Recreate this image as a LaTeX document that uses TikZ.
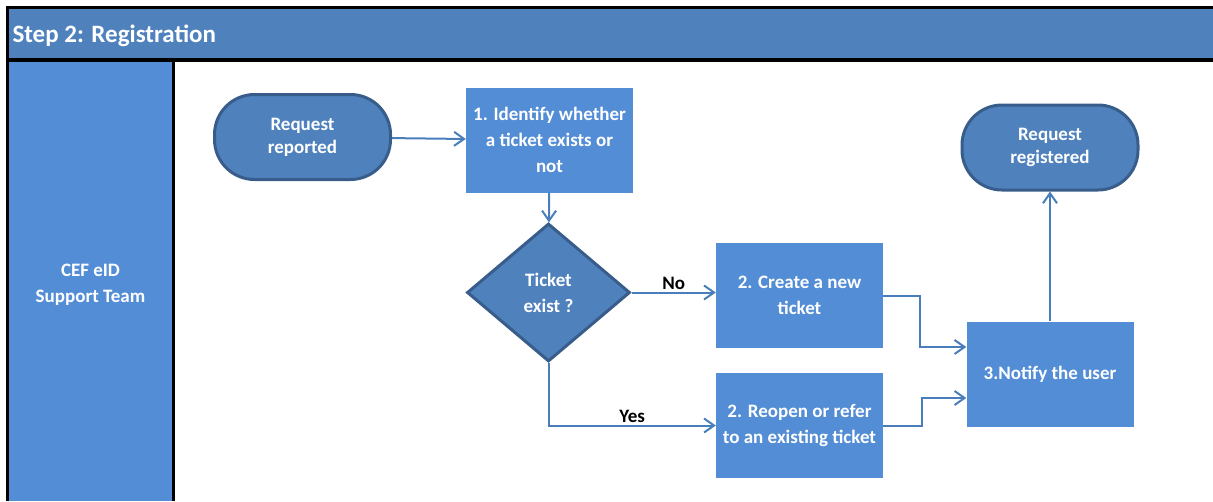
\documentclass[tikz,border=0pt]{standalone}
\usepackage{fontspec}
\setmainfont{Carlito}
\usetikzlibrary{shapes.geometric, arrows.meta}
\definecolor{headblue}{HTML}{4F81BD}
\definecolor{boxblue}{HTML}{538DD5}
\definecolor{rimblue}{HTML}{385D8A}
\definecolor{lineblue}{HTML}{4A7EBB}

\begin{document}
\begin{tikzpicture}[
  x=1pt, y=-1pt,
  every node/.style={font=\bfseries\fontsize{19}{26}\selectfont, text=white, align=center},
  terminal/.style={draw=rimblue, line width=3pt, fill=headblue, rounded corners=40pt, minimum width=176pt, minimum height=85pt, font=\bfseries\fontsize{19}{23}\selectfont},
  taskbox/.style={fill=boxblue, inner sep=4pt, minimum width=167pt, minimum height=105pt},
  decision/.style={diamond, draw=rimblue, line width=3pt, fill=headblue, inner sep=0pt, aspect=1.18, minimum width=163pt, minimum height=138pt},
  arrow/.style={-{Straight Barb[length=10pt, width=14pt]}, line width=2pt, draw=lineblue},
  answer/.style={text=black, inner sep=2pt}
]
\useasboundingbox (0,0) rectangle (1213,501);
\fill[headblue] (7,7) rectangle (1213,60);
\fill[boxblue] (7,60) rectangle (173,501);
\draw[line width=3pt] (1213,7) -- (7,7) -- (7,501);
\draw[line width=3.5pt] (7,60) -- (1213,60);
\draw[line width=3pt] (173.5,60) -- (173.5,501);
\node[anchor=west, font=\bfseries\fontsize{25}{30}\selectfont] (title) at (9,36) {Step 2: Registration};
\node (lane) at (90.5,284.5) {CEF eID\\Support Team};

\node[terminal] (reported) at (302.5,137) {Request\\reported};
\node[taskbox] (identify) [node distance=247pt, right of=reported, yshift=-3pt] {1. Identify whether\\a ticket exists or\\not};
\node[decision] (exists) [node distance=152.5pt, below of=identify, xshift=-1pt] {Ticket\\exist ?};
\node[taskbox] (create) [node distance=251pt, right of=exists, yshift=-3pt] {2. Create a new\\ticket};
\node[taskbox] (reopen) [node distance=130pt, below of=create] {2. Reopen or refer\\to an existing ticket};
\node[taskbox] (notify) [node distance=250.5pt, right of=create, yshift=-78.5pt] {3.Notify the user};
\node[terminal] (registered) [node distance=226.5pt, above of=notify] {Request\\registered};

\draw[arrow] (reported) -- (identify);
\draw[arrow] (identify) -- (exists);
\draw[arrow] (exists.east) -- (exists.east -| create.west) node[midway, above, answer] {No};
\draw[arrow] (exists.south) |- (reopen.west) node[pos=0.75, above, answer] {Yes};
\draw[arrow] (create.east) -- ++(37,0) |- ([yshift=27pt]notify.west);
\draw[arrow] (reopen.east) -- ++(39,0) |- ([yshift=-24pt]notify.west);
\draw[arrow] (notify) -- (registered);
\end{tikzpicture}
\end{document}
